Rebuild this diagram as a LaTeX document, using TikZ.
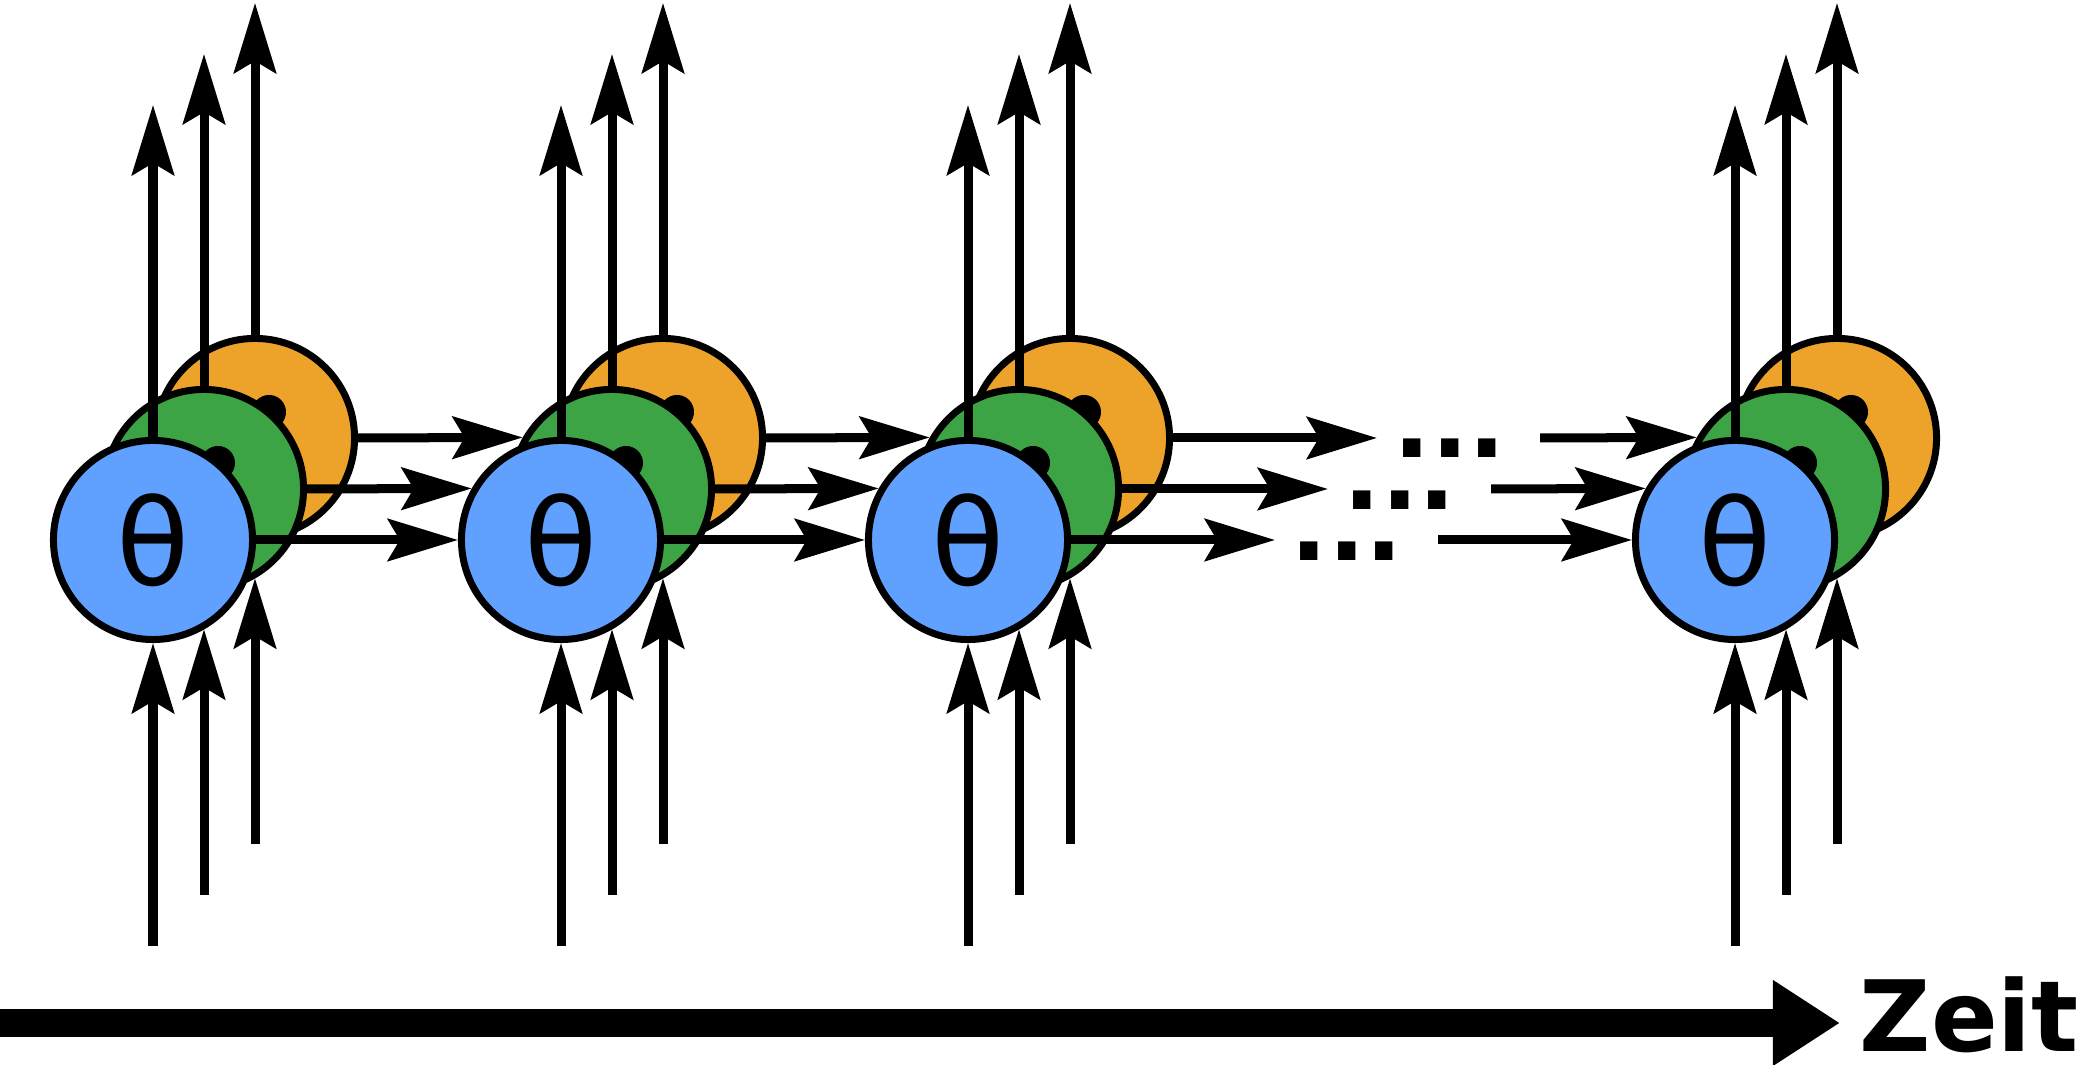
\documentclass[tikz,border=0pt]{standalone}
\usepackage{fontspec}
\setmainfont{DejaVu Sans}
\usepackage{tikz}
\usetikzlibrary{arrows.meta}

\definecolor{thetablue}{RGB}{96,160,255}
\definecolor{thetagreen}{RGB}{61,164,70}
\definecolor{thetaorange}{RGB}{237,162,41}

\begin{document}
\begin{tikzpicture}[x=0.01cm, y=0.01cm,
  cell/.style={circle, draw=black, line width=0.07cm, minimum size=1.99cm, inner sep=0pt, font=\fontsize{34}{34}\selectfont},
  link/.style={line width=0.09cm, -{Stealth[length=0.7cm, width=0.42cm, inset=0.12cm]}},
  ellip/.style={anchor=base west, inner sep=0pt, font=\fontsize{28}{28}\selectfont\bfseries}]
\useasboundingbox (0,0) rectangle (2079,1065);
\node[cell, fill=thetaorange] (o1) at (255,627) {};
\fill[black] (269,653) circle[radius=0.17cm];
\node[cell, fill=thetagreen] (g1) at (204,576) {};
\fill[black] (218,602) circle[radius=0.17cm];
\node[cell, fill=thetablue] (b1) at (153,525) {θ};
\node[cell, fill=thetaorange] (o2) at (663,627) {};
\fill[black] (677,653) circle[radius=0.17cm];
\node[cell, fill=thetagreen] (g2) at (612,576) {};
\fill[black] (626,602) circle[radius=0.17cm];
\node[cell, fill=thetablue] (b2) at (561,525) {θ};
\node[cell, fill=thetaorange] (o3) at (1070,627) {};
\fill[black] (1084,653) circle[radius=0.17cm];
\node[cell, fill=thetagreen] (g3) at (1019,576) {};
\fill[black] (1033,602) circle[radius=0.17cm];
\node[cell, fill=thetablue] (b3) at (968,525) {θ};
\node[cell, fill=thetaorange] (o4) at (1837,627) {};
\fill[black] (1851,653) circle[radius=0.17cm];
\node[cell, fill=thetagreen] (g4) at (1786,576) {};
\fill[black] (1800,602) circle[radius=0.17cm];
\node[cell, fill=thetablue] (b4) at (1735,525) {θ};
\node[ellip] (dots1) at (1393,607) {...};
\node[ellip] (dots2) at (1343,555) {...};
\node[ellip] (dots3) at (1290,504) {...};
\coordinate (e1) at (1377,627);
\coordinate (e2) at (1328,576);
\coordinate (e3) at (1275,525);
\coordinate (s1) at (1540,627);
\coordinate (s2) at (1491,576);
\coordinate (s3) at (1438,525);
\coordinate (ib1) at (153,119);
\coordinate (ig1) at (204,170);
\coordinate (io1) at (255,221);
\coordinate (ib2) at (561,119);
\coordinate (ig2) at (612,170);
\coordinate (io2) at (663,221);
\coordinate (ib3) at (968,119);
\coordinate (ig3) at (1019,170);
\coordinate (io3) at (1070,221);
\coordinate (ib4) at (1735,119);
\coordinate (ig4) at (1786,170);
\coordinate (io4) at (1837,221);
\coordinate (tb1) at (153,960);
\coordinate (tg1) at (204,1011);
\coordinate (to1) at (255,1062);
\coordinate (tb2) at (561,960);
\coordinate (tg2) at (612,1011);
\coordinate (to2) at (663,1062);
\coordinate (tb3) at (968,960);
\coordinate (tg3) at (1019,1011);
\coordinate (to3) at (1070,1062);
\coordinate (tb4) at (1735,960);
\coordinate (tg4) at (1786,1011);
\coordinate (to4) at (1837,1062);
\draw[link] (ib1) -- (b1.south);
\draw[link] (ig1) -- (ig1 |- b1.-60);
\draw[link] (io1) -- (io1 |- g1.-60);
\draw[link] (ib2) -- (b2.south);
\draw[link] (ig2) -- (ig2 |- b2.-60);
\draw[link] (io2) -- (io2 |- g2.-60);
\draw[link] (ib3) -- (b3.south);
\draw[link] (ig3) -- (ig3 |- b3.-60);
\draw[link] (io3) -- (io3 |- g3.-60);
\draw[link] (ib4) -- (b4.south);
\draw[link] (ig4) -- (ig4 |- b4.-60);
\draw[link] (io4) -- (io4 |- g4.-60);
\draw[link] (b1.north) -- (tb1);
\draw[link] (g1.north) -- (tg1);
\draw[link] (o1.north) -- (to1);
\draw[link] (b2.north) -- (tb2);
\draw[link] (g2.north) -- (tg2);
\draw[link] (o2.north) -- (to2);
\draw[link] (b3.north) -- (tb3);
\draw[link] (g3.north) -- (tg3);
\draw[link] (o3.north) -- (to3);
\draw[link] (b4.north) -- (tb4);
\draw[link] (g4.north) -- (tg4);
\draw[link] (o4.north) -- (to4);
\draw[link] (o1.east) -- (g2.150);
\draw[link] (g1.east) -- (b2.150);
\draw[link] (b1.east) -- (b2.west);
\draw[link] (o2.east) -- (g3.150);
\draw[link] (g2.east) -- (b3.150);
\draw[link] (b2.east) -- (b3.west);
\draw[link] (o3.east) -- (e1);
\draw[link] (g3.east) -- (e2);
\draw[link] (b3.east) -- (e3);
\draw[link] (s1) -- (g4.150);
\draw[link] (s2) -- (b4.150);
\draw[link] (s3) -- (b4.west);
\node[ellip] (zeit) at (1859,13) {Zeit};
\coordinate (t0) at (0,42);
\coordinate (t1) at (1840,42);
\draw[line width=0.28cm, -{Triangle[length=0.67cm, width=0.81cm]}] (t0) -- (t1);
\end{tikzpicture}
\end{document}
